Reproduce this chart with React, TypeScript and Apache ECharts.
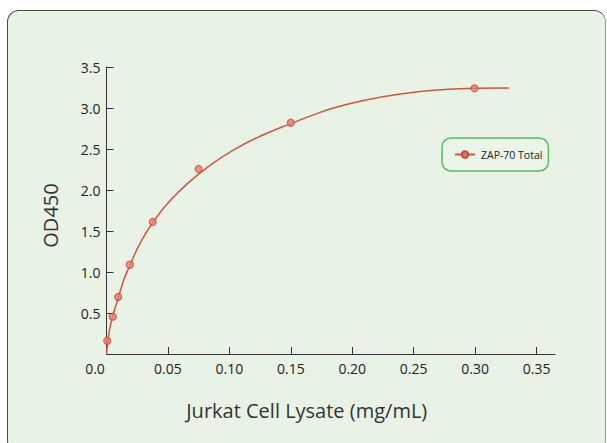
import React, { useEffect, useRef } from "react";
import * as echarts from "echarts";

const seriesName = "ZAP-70 Total";
const xTitle = "Jurkat Cell Lysate (mg/mL)";
const yTitle = "OD450";

// measured points
const pointX = [0.0006, 0.0051, 0.0095, 0.019, 0.0376, 0.075, 0.15, 0.2995];
const pointY = [0.16, 0.455, 0.695, 1.09, 1.61, 2.256, 2.82, 3.24];

// fitted curve
const curveX = [0, 0.0012, 0.0025, 0.005, 0.0095, 0.014, 0.019, 0.028, 0.0385, 0.05, 0.0656, 0.085, 0.1035, 0.125, 0.15, 0.17, 0.1848, 0.212, 0.239, 0.266, 0.2995, 0.3276];
const curveY = [0, 0.16, 0.3, 0.46, 0.68, 0.9, 1.08, 1.37, 1.62, 1.84, 2.075, 2.31, 2.49, 2.655, 2.81, 2.925, 3.0, 3.1, 3.17, 3.215, 3.24, 3.245];

const xTicks = [0, 0.05, 0.1, 0.15, 0.2, 0.25, 0.3, 0.35];
const yTicks = [0.5, 1.0, 1.5, 2.0, 2.5, 3.0, 3.5];

const FONT = "'Open Sans', 'DejaVu Sans', sans-serif";

export default function App() {
  const ref = useRef<HTMLDivElement>(null);
  useEffect(() => {
    if (!ref.current) return;
    const chart = echarts.init(ref.current, null, { renderer: "svg" });
    chart.setOption({
      animation: false,
      backgroundColor: "transparent",
      textStyle: { fontFamily: FONT },
      grid: { left: 106.5, right: 52, top: 67, bottom: 89, containLabel: false },
      legend: {
        data: [seriesName],
        left: 442,
        top: 138,
        padding: [11, 6, 11, 12],
        itemWidth: 20,
        itemHeight: 8,
        itemGap: 6,
        borderColor: "#5dbb5d",
        borderWidth: 1.5,
        borderRadius: 9,
        backgroundColor: "#eaf4e8",
        textStyle: { fontFamily: FONT, fontSize: 10.5, color: "#222", padding: [0, 0, 0, 1] },
      },
      xAxis: {
        type: "value",
        min: 0,
        max: 0.365,
        interval: 0.05,
        splitLine: { show: false },
        axisLine: { show: true, onZero: false, lineStyle: { color: "#333", width: 1 } },
        axisTick: { show: true, inside: true, length: 7, customValues: xTicks, lineStyle: { color: "#333" } },
        axisLabel: {
          customValues: xTicks,
          margin: 7,
          fontSize: 14,
          color: "#222",
          fontFamily: FONT,
          formatter: (v: number) => (v === 0 ? "{o|0.0}" : v.toFixed(2)),
          rich: { o: { fontSize: 14, color: "#222", fontFamily: FONT, padding: [0, 23, 0, 0] } },
        },
        name: xTitle,
        nameLocation: "middle",
        nameGap: 46,
        nameTextStyle: { fontSize: 20, color: "#333", fontFamily: FONT, padding: [0, 48, 0, 0] },
      },
      yAxis: {
        type: "value",
        min: 0,
        max: 3.5,
        interval: 0.5,
        splitLine: { show: false },
        axisLine: { show: true, onZero: false, lineStyle: { color: "#333", width: 1 } },
        axisTick: { show: true, inside: true, length: 7, customValues: yTicks, lineStyle: { color: "#333" } },
        axisLabel: {
          customValues: yTicks,
          margin: 6,
          fontSize: 14,
          color: "#222",
          fontFamily: FONT,
          formatter: (v: number) => v.toFixed(1),
        },
        name: yTitle,
        nameLocation: "middle",
        nameGap: 46,
        nameRotate: 90,
        nameTextStyle: { fontSize: 20, color: "#333", fontFamily: FONT, padding: [0, 0, 0, -10] },
      },
      series: [
        {
          name: seriesName,
          type: "line",
          data: curveX.map((x, i) => [x, curveY[i]]),
          smooth: 0.5,
          showSymbol: false,
          symbol: "circle",
          lineStyle: { color: "#d4553f", width: 1.5 },
          itemStyle: { color: "#e8776a", borderColor: "#cc4436", borderWidth: 1 },
          z: 2,
        },
        {
          name: seriesName,
          type: "scatter",
          data: pointX.map((x, i) => [x, pointY[i]]),
          symbol: "circle",
          symbolSize: 7,
          itemStyle: { color: "#ec7c70", borderColor: "#d2463a", borderWidth: 1.2 },
          z: 3,
        },
      ],
    });
    return () => chart.dispose();
  }, []);

  return (
    <div style={{ position: "absolute", left: 0, top: 0, width: 607, height: 443, background: "#fff", overflow: "hidden" }}>
      <div
        style={{
          position: "absolute",
          left: 7,
          top: 10,
          width: 597,
          height: 440,
          border: "1.5px solid #4a4a4a",
          borderRightColor: "#9a9a9a",
          borderRadius: 12,
          background: "#e8f3e6",
        }}
      />
      <div ref={ref} style={{ position: "absolute", left: 0, top: 0, width: 607, height: 443 }} />
    </div>
  );
}
